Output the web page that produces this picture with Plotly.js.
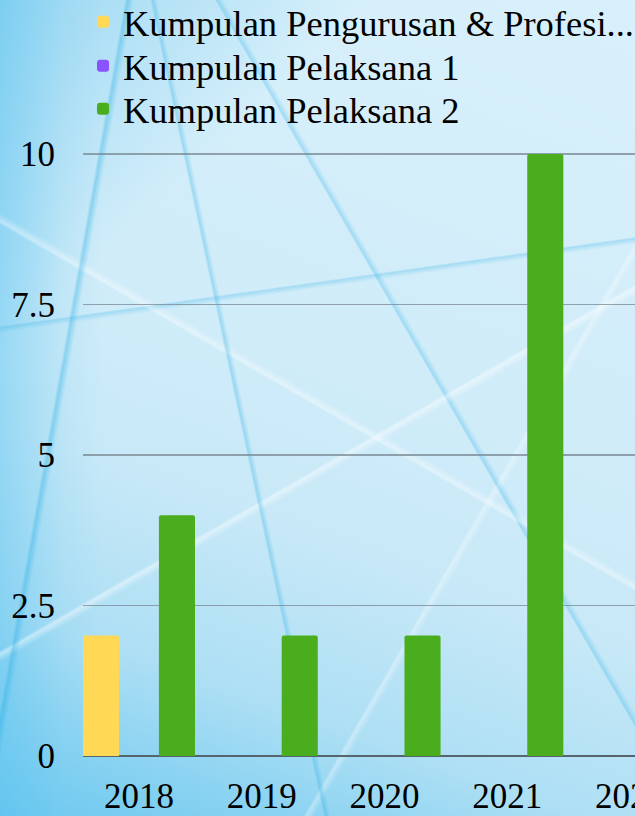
<!DOCTYPE html>
<html>
<head>
<meta charset="utf-8">
<script src="https://cdn.plot.ly/plotly-3.0.1.min.js"></script>
<style>
html,body{margin:0;padding:0;width:635px;height:816px;overflow:hidden;}
body{
background:
 linear-gradient(100deg, transparent 16%, rgba(30,170,225,0.35) 16.4%, transparent 17.2%),
 linear-gradient(78deg, transparent 40%, rgba(30,170,225,0.30) 40.3%, transparent 40.9%),
 linear-gradient(150deg, transparent 55%, rgba(255,255,255,0.45) 55.3%, transparent 56%),
 linear-gradient(30deg, transparent 50%, rgba(255,255,255,0.40) 50.3%, transparent 51%),
 linear-gradient(172deg, transparent 36%, rgba(60,180,230,0.30) 36.2%, transparent 36.8%),
 linear-gradient(60deg, transparent 62%, rgba(40,175,230,0.30) 62.2%, transparent 62.8%),
 linear-gradient(120deg, transparent 70%, rgba(255,255,255,0.35) 70.3%, transparent 71%),
 linear-gradient(90deg, rgba(90,195,240,0.45) 0%, rgba(120,205,240,0.15) 10%, transparent 16%),
 linear-gradient(20deg, rgba(50,180,235,0.55) 0%, rgba(120,205,240,0.25) 20%, transparent 38%),
 linear-gradient(135deg, rgba(140,210,240,0.8) 0%, transparent 25%),
 linear-gradient(200deg, #d8f0fb 0%, #d0ecf9 45%, #c2e6f6 75%, #b2e0f4 100%);
}
#chart{width:635px;height:816px;}
</style>
</head>
<body>
<div id="chart"></div>
<script>
const years = ['2018', '2019', '2020', '2021', '2022'];
const seriesNames = ['Kumpulan Pengurusan & Profesi...', 'Kumpulan Pelaksana 1', 'Kumpulan Pelaksana 2'];
const pengurusan = [2, 0, 0, 0, 0];
const pelaksana1 = [0, 0, 0, 0, 0];
const pelaksana2 = [4, 2, 2, 10, 0];
const yTicks = [0, 2.5, 5, 7.5, 10];
const yTickText = ['0', '2.5', '5', '7.5', '10'];
const colors = ['#FFD955', '#8C52FF', '#4AAD1E'];

const values = [pengurusan, pelaksana1, pelaksana2];
const legendIds = ['legend', 'legend2', 'legend3'];
const traces = values.map((v, i) => ({
  type: 'bar',
  name: seriesNames[i],
  x: years,
  y: v,
  legend: legendIds[i],
  marker: {color: colors[i], line: {width: 0}},
  hoverinfo: 'none'
}));

const font = {family: '"Liberation Serif", "Times New Roman", serif', color: '#000000'};

// plot area: top 151px, bottom 756px
const plotTop = 151, plotBottom = 756;
function paperY(px) { return (plotBottom - px) / (plotBottom - plotTop); }
const legendCenters = [22, 66, 109];

const layout = {
  width: 635,
  height: 816,
  margin: {l: 83, r: 0, t: plotTop, b: 816 - plotBottom, autoexpand: false},
  paper_bgcolor: 'rgba(0,0,0,0)',
  plot_bgcolor: 'rgba(0,0,0,0)',
  barmode: 'group',
  bargap: 0.072,
  bargroupgap: 0.05,
  barcornerradius: 2,
  font: Object.assign({size: 35}, font),
  showlegend: true,
  xaxis: {
    type: 'category',
    range: [-0.456, 4.04],
    showgrid: false,
    zeroline: false,
    showline: false,
    ticks: '',
    tickfont: Object.assign({size: 35}, font),
    ticklabelstandoff: 16,
    automargin: false,
    fixedrange: true
  },
  yaxis: {
    range: [0, 10.05],
    tickvals: yTicks,
    ticktext: yTickText,
    showgrid: true,
    gridcolor: 'rgba(120,135,145,0.75)',
    gridwidth: 1.5,
    zeroline: true,
    zerolinecolor: '#56646E',
    zerolinewidth: 2,
    showline: false,
    ticks: '',
    tickfont: Object.assign({size: 35}, font),
    ticklabelstandoff: 27,
    automargin: false,
    fixedrange: true
  }
};
legendIds.forEach((id, i) => {
  layout[id] = {
    xref: 'paper', yref: 'paper',
    x: 0, y: paperY(legendCenters[i]), xanchor: 'left', yanchor: 'middle',
    orientation: 'v',
    font: Object.assign({size: 36.5}, font),
    bgcolor: 'rgba(0,0,0,0)',
    borderwidth: 0
  };
});

Plotly.newPlot('chart', traces, layout, {displayModeBar: false, staticPlot: true});
</script>
</body>
</html>
